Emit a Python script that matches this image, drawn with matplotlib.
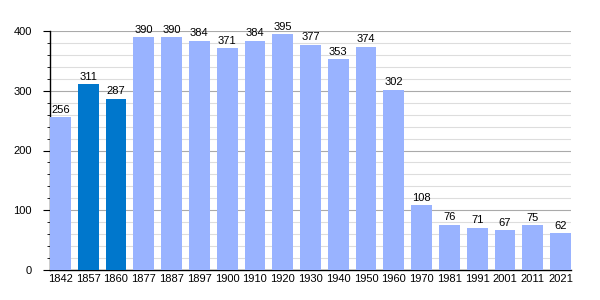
import matplotlib.pyplot as plt
from matplotlib.ticker import MultipleLocator

plt.rcParams['font.family'] = ['Liberation Sans', 'DejaVu Sans']

years = ['1842', '1857', '1860', '1877', '1887', '1897', '1900', '1910', '1920', '1930',
         '1940', '1950', '1960', '1970', '1981', '1991', '2001', '2011', '2021']
population = [256, 311, 287, 390, 390, 384, 371, 384, 395, 377, 353, 374, 302, 108, 76, 71, 67, 75, 62]
highlight = ['1857', '1860']

fig = plt.figure(figsize=(6, 3), dpi=100)
ax = fig.add_axes([50 / 600, 30 / 300, 521 / 600, 239 / 300])

colors = ['#0077cc' if y in highlight else '#99b3ff' for y in years]
x = range(len(years))
w = 0.75
ax.bar(x, population, width=w, color=colors, zorder=3)
for i, v in enumerate(population):
    ax.text(i, v + 4, str(v), ha='center', va='bottom', fontsize=8, zorder=4)

ax.set_xlim(-w / 2, len(years) - 1 + w / 2)
ax.set_ylim(0, 400)
ax.yaxis.set_major_locator(MultipleLocator(100))
ax.yaxis.set_minor_locator(MultipleLocator(20))
ax.grid(axis='y', which='major', color='#aaaaaa', lw=0.8, zorder=0)
ax.grid(axis='y', which='minor', color='#dddddd', lw=0.8, zorder=0)
ax.set_xticks(list(x))
ax.set_xticklabels(years, fontsize=8)
ax.tick_params(axis='x', length=0, pad=3)
ax.tick_params(axis='y', which='major', length=5, labelsize=8, pad=8)
ax.tick_params(axis='y', which='minor', length=2.5)
for s in ['top', 'right']:
    ax.spines[s].set_visible(False)
ax.spines['left'].set_linewidth(1)
ax.spines['bottom'].set_linewidth(1)

fig.savefig('out.png', dpi=100)
